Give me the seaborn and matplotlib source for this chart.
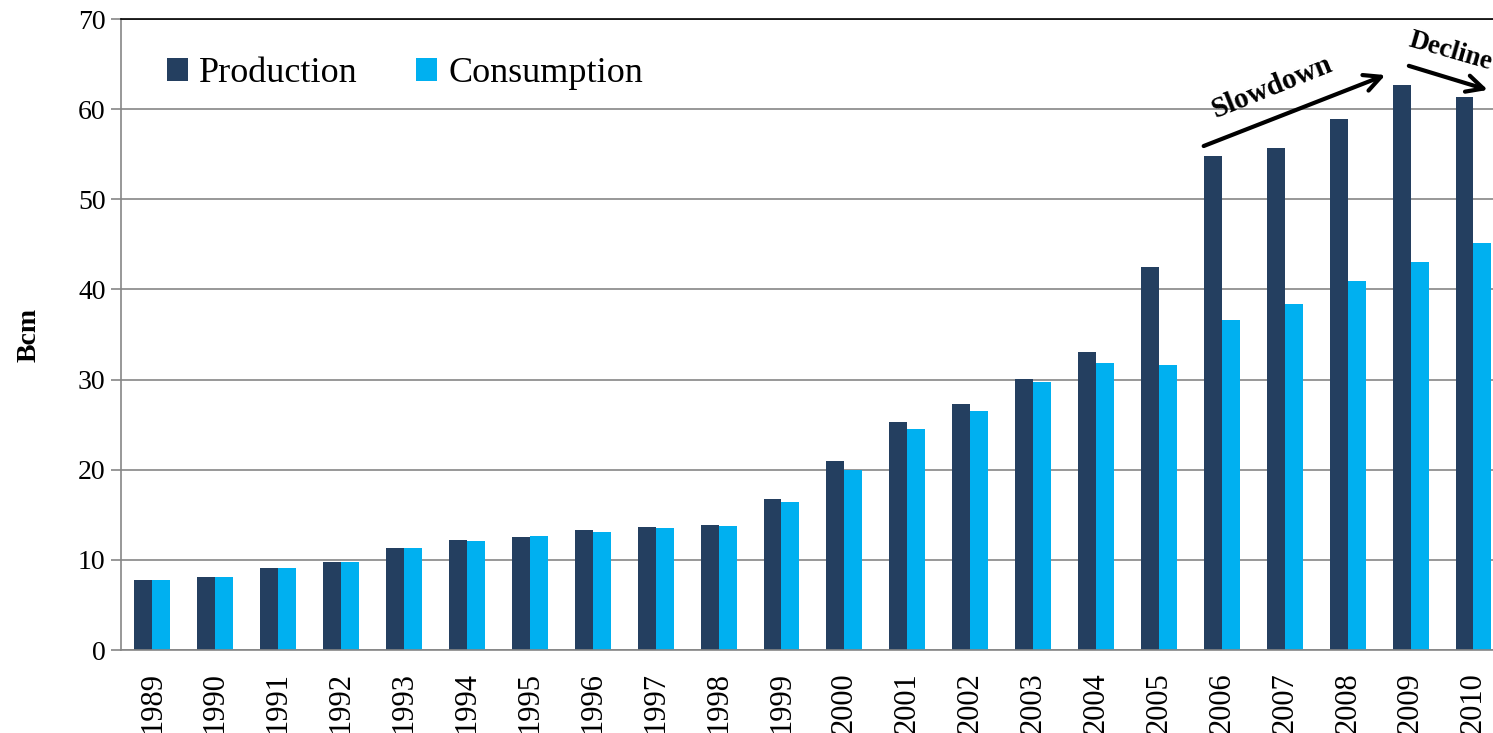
import matplotlib
matplotlib.use("Agg")
import matplotlib.pyplot as plt
import pandas as pd
import seaborn as sns

# datos (Bcm)
years = [str(y) for y in range(1989, 2011)]
production = [7.8, 8.1, 9.1, 9.8, 11.3, 12.2, 12.5, 13.3, 13.6, 13.9, 16.8,
              21.0, 25.3, 27.3, 30.1, 33.1, 42.5, 54.8, 55.7, 58.9, 62.7, 61.4]
consumption = [7.8, 8.1, 9.1, 9.8, 11.3, 12.1, 12.6, 13.1, 13.5, 13.8, 16.4,
               20.0, 24.5, 26.5, 29.7, 31.8, 31.6, 36.6, 38.4, 40.9, 43.0, 45.2]
series = ["Production", "Consumption"]
colors = ["#243F60", "#00B0F0"]

df = pd.DataFrame({
    "year": years * 2,
    "value": production + consumption,
    "series": [series[0]] * len(years) + [series[1]] * len(years),
})

sns.set_style("white")
plt.rcParams["font.family"] = ["Liberation Serif", "DejaVu Serif"]
plt.rcParams["text.color"] = "black"
plt.rcParams["xtick.color"] = "black"
plt.rcParams["ytick.color"] = "black"
plt.rcParams["axes.labelcolor"] = "black"

fig = plt.figure(figsize=(14.93, 7.33), dpi=100)
ax = fig.add_axes([0.081, 0.1132, 0.927, 0.8608])

sns.barplot(data=df, x="year", y="value", hue="series", palette=colors,
            width=0.57, gap=0, saturation=1, linewidth=0, ax=ax)

ax.set_xlim(-0.5, len(years) - 0.5)
ax.set_ylim(0, 70)
ax.set_yticks(range(0, 71, 10))
ax.yaxis.grid(True, color="#868686", lw=1.2)
ax.set_axisbelow(True)

# marcas del eje x entre categorias
ax.set_xticks([i - 0.5 for i in range(len(years) + 1)], minor=True)
ax.tick_params(axis="x", which="minor", length=7, width=1.2, color="#868686", direction="out")
ax.tick_params(axis="x", which="major", length=0, pad=16, labelsize=22, labelrotation=90)
ax.tick_params(axis="y", length=7, width=1.2, color="#868686", direction="out",
               labelsize=20, pad=4, left=True)

for s in ["left", "bottom"]:
    ax.spines[s].set_color("#868686")
    ax.spines[s].set_linewidth(1.2)
ax.spines["right"].set_visible(False)
ax.spines["top"].set_color("black")
ax.spines["top"].set_linewidth(1.2)

ax.set_xlabel("")
ax.set_ylabel("Bcm", fontsize=20, fontweight="bold")
ax.yaxis.set_label_coords(-0.057, 0.5)

handles, labels = ax.get_legend_handles_labels()
ax.legend(handles, labels, loc="center left", bbox_to_anchor=(0.033, 0.914),
          ncol=2, frameon=False, fontsize=26, handlelength=0.6, handleheight=0.6,
          handletextpad=0.3, columnspacing=1.6, borderpad=0, borderaxespad=0)

# anotaciones
ax.annotate("", xy=(19.64, 63.9), xytext=(16.67, 55.8),
            arrowprops=dict(arrowstyle="->", lw=3, color="black", mutation_scale=30))
ax.annotate("", xy=(21.27, 62.05), xytext=(19.93, 64.9),
            arrowprops=dict(arrowstyle="->", lw=3, color="black", mutation_scale=30))
ax.text(17.8, 62.4, "Slowdown", fontsize=21, fontweight="bold", rotation=22,
        ha="center", va="center", rotation_mode="anchor")
ax.text(20.63, 66.4, "Decline", fontsize=19.5, fontweight="bold", rotation=-16,
        ha="center", va="center", rotation_mode="anchor")

fig.savefig("out.png", dpi=100)
